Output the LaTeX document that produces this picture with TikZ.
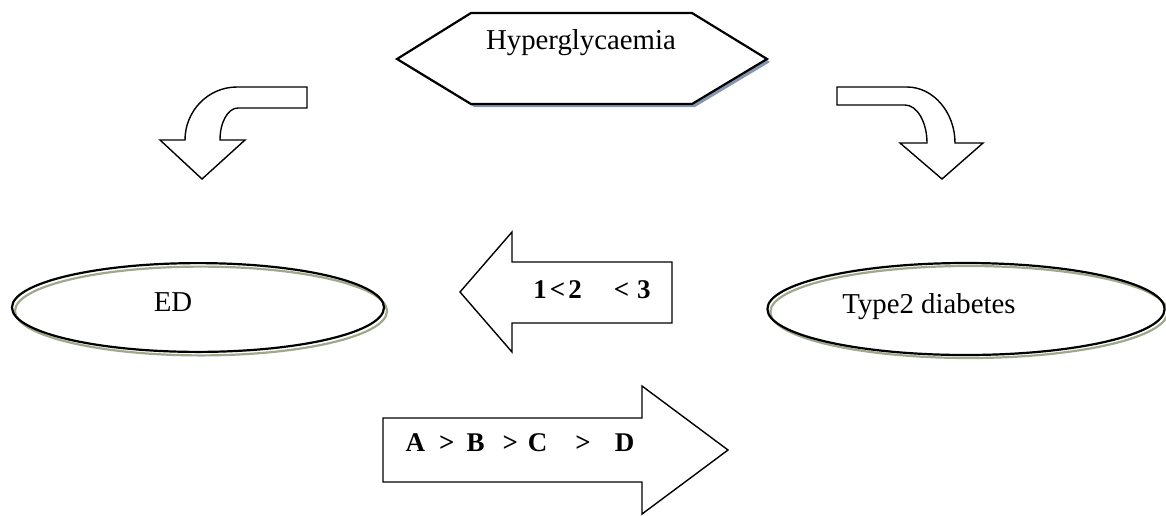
\documentclass[tikz,border=0pt]{standalone}
\usepackage{fontspec}
\setmainfont{Liberation Serif}
\definecolor{hexshadow}{RGB}{132,150,176}
\definecolor{ovalshadow}{RGB}{158,168,138}
\begin{document}
\begin{tikzpicture}[
  x=0.5pt, y=-0.5pt,
  outline/.style={draw=black, line width=0.7pt, line join=miter},
  heavy/.style={draw=black, line width=1.1pt},
  plainlbl/.style={inner sep=0pt, font=\fontsize{14.4pt}{17pt}\selectfont},
  boldlbl/.style={inner sep=0pt, font=\fontsize{13.5pt}{16pt}\selectfont\bfseries}
]
  \useasboundingbox (0,0) rectangle (1166,515);

  % Hexagon with shadow
  \fill[hexshadow] (400,62) -- (474,16) -- (695,16) -- (770,62) -- (695,107) -- (474,107) -- cycle;
  \filldraw[heavy, fill=white] (397,59) -- (471,13) -- (692,13) -- (767,59) -- (692,104) -- (471,104) -- cycle;
  \node[plainlbl] (hyper) at (581,43) {Hyperglycaemia};

  % Bent arrows
  \draw[outline] (307,87) -- (237,87) .. controls (208,87) and (185,111) .. (185,140)
    -- (160,140) -- (202,179) -- (245,140) -- (220,140)
    .. controls (220,122) and (228,108) .. (238,108) -- (307,108) -- cycle;
  \draw[outline] (837,87) -- (907,87) .. controls (933,87) and (955,112) .. (955,143)
    -- (983,143) -- (942,179) -- (900,143) -- (927,143)
    .. controls (927,122) and (917,105) .. (905,105) -- (837,105) -- cycle;

  % Ovals
  \draw[ovalshadow, line width=1.1pt] (201,311) ellipse [x radius=93pt, y radius=22.2pt];
  \draw[heavy] (198,307.5) ellipse [x radius=93pt, y radius=22.2pt];
  \node[plainlbl] (ed) at (173,302) {ED};

  \draw[ovalshadow, line width=1.1pt] (969,312) ellipse [x radius=99.3pt, y radius=23pt];
  \draw[heavy] (966,309) ellipse [x radius=99.3pt, y radius=23pt];
  \node[plainlbl] (t2d) at (929,307) {Type2 diabetes};

  % Block arrows
  \draw[outline] (672,262) -- (512,262) -- (512,232) -- (460,292) -- (512,352) -- (512,323) -- (672,323) -- cycle;
  \node[boldlbl] (order) at (592,290) {1\hspace{1.5pt}<\hspace{1.5pt}2\hspace{16pt}<\hspace{4pt}3};

  \draw[outline] (383,418) -- (642,418) -- (642,386) -- (728,450) -- (642,514) -- (642,482) -- (383,482) -- cycle;
  \node[boldlbl] (rank) at (520,443) {A\hspace{7pt}>\hspace{6pt}B\hspace{9pt}>\hspace{5pt}C\hspace{14pt}>\hspace{12pt}D};
\end{tikzpicture}
\end{document}
